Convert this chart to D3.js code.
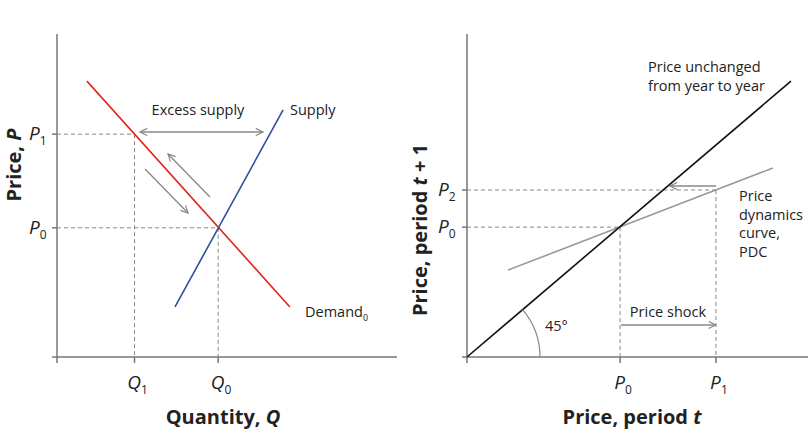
<!DOCTYPE html><html><head><meta charset="utf-8"><script src="https://cdn.jsdelivr.net/npm/d3@7"></script>
<style>body{margin:0;background:#fff}text{font-family:"Open Sans",Lato,sans-serif;fill:#222}</style></head><body><svg id="c" width="810" height="440"></svg>
<script>
// Left panel (data units 0-100)
const leftQTicks=[{v:22.8,l:"Q",s:"1"},{v:47.4,l:"Q",s:"0"}];
const leftPTicks=[{v:69,l:"P",s:"1"},{v:40,l:"P",s:"0"}];
const demand=[[8.8,85.4],[68.5,15.5]];
const supply=[[34.7,15.5],[66.5,76.5]];
// Right panel
const rightXTicks=[{v:44.9,l:"P",s:"0"},{v:73,l:"P",s:"1"}];
const rightYTicks=[{v:51.7,l:"P",s:"2"},{v:40.2,l:"P",s:"0"}];
const line45=[[0,0],[95,85.4]];
const pdc=[[12,26.9],[89.7,58.5]];

const svg=d3.select("#c");
const defs=svg.append("defs");
defs.append("marker").attr("id","ah").attr("viewBox","0 0 10 10").attr("refX",9).attr("refY",5)
 .attr("markerWidth",9).attr("markerHeight",9).attr("markerUnits","userSpaceOnUse").attr("orient","auto-start-reverse")
 .append("path").attr("d","M1,1L9,5L1,9").attr("fill","none").attr("stroke","#888").attr("stroke-width",1.3);
const gray="#888", axc="#777";
function panel(x0,x1){
  const x=d3.scaleLinear().domain([0,100]).range([x0,x1]);
  const y=d3.scaleLinear().domain([0,100]).range([357,34]);
  return {x,y};
}
function sub(g,x,y,l,s,anchor){
  const t=g.append("text").attr("x",x).attr("y",y).attr("text-anchor",anchor||"middle").style("font-size","19px");
  t.append("tspan").text(l).style("font-style","italic");
  t.append("tspan").text(s).attr("dy",5).style("font-size","12px");
  return t;
}
function axes(g,sc,xend){
  g.append("line").attr("x1",sc.x(0)-5).attr("x2",xend).attr("y1",sc.y(0)).attr("y2",sc.y(0)).attr("stroke",axc).attr("stroke-width",1.5);
  g.append("line").attr("x1",sc.x(0)).attr("x2",sc.x(0)).attr("y1",34).attr("y2",sc.y(0)+6).attr("stroke",axc).attr("stroke-width",1.5);
}
const line=(sc)=>d3.line().x(d=>sc.x(d[0])).y(d=>sc.y(d[1]));
// LEFT
const L=panel(57,397);const gl=svg.append("g");
axes(gl,L,397);
leftQTicks.forEach(t=>{gl.append("line").attr("x1",L.x(t.v)).attr("x2",L.x(t.v)).attr("y1",L.y(0)).attr("y2",L.y(0)+6).attr("stroke",axc).attr("stroke-width",1.5);
 sub(gl,L.x(t.v)+3,389,t.l,t.s);});
leftPTicks.forEach(t=>{gl.append("line").attr("x1",L.x(0)-5).attr("x2",L.x(0)).attr("y1",L.y(t.v)).attr("y2",L.y(t.v)).attr("stroke",axc).attr("stroke-width",1.5);
 sub(gl,29,L.y(t.v)+6,t.l,t.s,"start");});
const dash=(g,x1,y1,x2,y2)=>g.append("line").attr("x1",x1).attr("y1",y1).attr("x2",x2).attr("y2",y2).attr("stroke",gray).attr("stroke-dasharray","4,3").attr("stroke-width",1);
dash(gl,L.x(0),L.y(69),L.x(22.8),L.y(69));dash(gl,L.x(22.8),L.y(69),L.x(22.8),L.y(0));
dash(gl,L.x(0),L.y(40),L.x(47.4),L.y(40));dash(gl,L.x(47.4),L.y(40),L.x(47.4),L.y(0));
gl.append("path").attr("d",line(L)(demand)).attr("stroke","#e2261c").attr("stroke-width",1.6).attr("fill","none");
gl.append("path").attr("d",line(L)(supply)).attr("stroke","#2f4ea0").attr("stroke-width",1.6).attr("fill","none");
const arr=(g,x1,y1,x2,y2,both)=>{const l=g.append("line").attr("x1",x1).attr("y1",y1).attr("x2",x2).attr("y2",y2).attr("stroke",gray).attr("stroke-width",1.3).attr("marker-end","url(#ah)");if(both)l.attr("marker-start","url(#ah)");};
arr(gl,140,132,263,132,true);
arr(gl,210,197,168,154);
arr(gl,145,169,188,213);
gl.append("text").attr("x",198).attr("y",115).attr("text-anchor","middle").style("font-size","14.5px").text("Excess supply");
gl.append("text").attr("x",290).attr("y",115).style("font-size","14.5px").text("Supply");
const dt=gl.append("text").attr("x",305).attr("y",317).style("font-size","14.5px");dt.append("tspan").text("Demand");dt.append("tspan").text("0").attr("dy",4).style("font-size","9px");
const pt=gl.append("text").attr("transform","translate(21,165) rotate(-90)").attr("text-anchor","middle").style("font-size","20px").style("font-weight","bold");
pt.append("tspan").text("Price, ");pt.append("tspan").text("P").style("font-style","italic");
const qt=gl.append("text").attr("x",223).attr("y",424).attr("text-anchor","middle").style("font-size","20px").style("font-weight","bold");
qt.append("tspan").text("Quantity, ");qt.append("tspan").text("Q").style("font-style","italic");
// RIGHT
const R=panel(467,808);const gr=svg.append("g");
axes(gr,R,808);
rightXTicks.forEach(t=>{gr.append("line").attr("x1",R.x(t.v)).attr("x2",R.x(t.v)).attr("y1",R.y(0)).attr("y2",R.y(0)+6).attr("stroke",axc).attr("stroke-width",1.5);
 sub(gr,R.x(t.v)+3,389,t.l,t.s);});
rightYTicks.forEach(t=>{gr.append("line").attr("x1",R.x(0)-5).attr("x2",R.x(0)).attr("y1",R.y(t.v)).attr("y2",R.y(t.v)).attr("stroke",axc).attr("stroke-width",1.5);
 sub(gr,438,R.y(t.v)+6,t.l,t.s,"start");});
dash(gr,R.x(0),R.y(51.7),R.x(73),R.y(51.7));dash(gr,R.x(73),R.y(51.7),R.x(73),R.y(0));
dash(gr,R.x(0),R.y(40.2),R.x(44.9),R.y(40.2));dash(gr,R.x(44.9),R.y(40.2),R.x(44.9),R.y(0));
gr.append("path").attr("d",line(R)(pdc)).attr("stroke","#999").attr("stroke-width",1.6).attr("fill","none");
gr.append("path").attr("d",line(R)(line45)).attr("stroke","#111").attr("stroke-width",1.6).attr("fill","none");
const ang=Math.atan2(R.y(0)-R.y(85.4),R.x(95)-R.x(0));
gr.append("path").attr("d",d3.arc()({innerRadius:73,outerRadius:73,startAngle:Math.PI/2-ang,endAngle:Math.PI/2})).attr("transform",`translate(${R.x(0)},${R.y(0)})`).attr("stroke","#888").attr("fill","none").attr("stroke-width",1.2);
gr.append("text").attr("x",545).attr("y",331).style("font-size","14.5px").text("45°");
arr(gr,R.x(44.9)+1,325,R.x(73),325);
arr(gr,716,186,670,186);
gr.append("text").attr("x",668).attr("y",317).attr("text-anchor","middle").style("font-size","14.5px").text("Price shock");
gr.append("text").attr("x",648).attr("y",72).style("font-size","14.5px").text("Price unchanged");
gr.append("text").attr("x",648).attr("y",91).style("font-size","14.5px").text("from year to year");
["Price","dynamics","curve,","PDC"].forEach((s,i)=>gr.append("text").attr("x",739).attr("y",201+i*18.5).style("font-size","14.5px").text(s));
const yt=gr.append("text").attr("transform","translate(427,230) rotate(-90)").attr("text-anchor","middle").style("font-size","20px").style("font-weight","bold");
yt.append("tspan").text("Price, period ");yt.append("tspan").text("t").style("font-style","italic");yt.append("tspan").text(" + 1");
const xt=gr.append("text").attr("x",632).attr("y",424).attr("text-anchor","middle").style("font-size","20px").style("font-weight","bold");
xt.append("tspan").text("Price, period ");xt.append("tspan").text("t").style("font-style","italic");
</script></body></html>
